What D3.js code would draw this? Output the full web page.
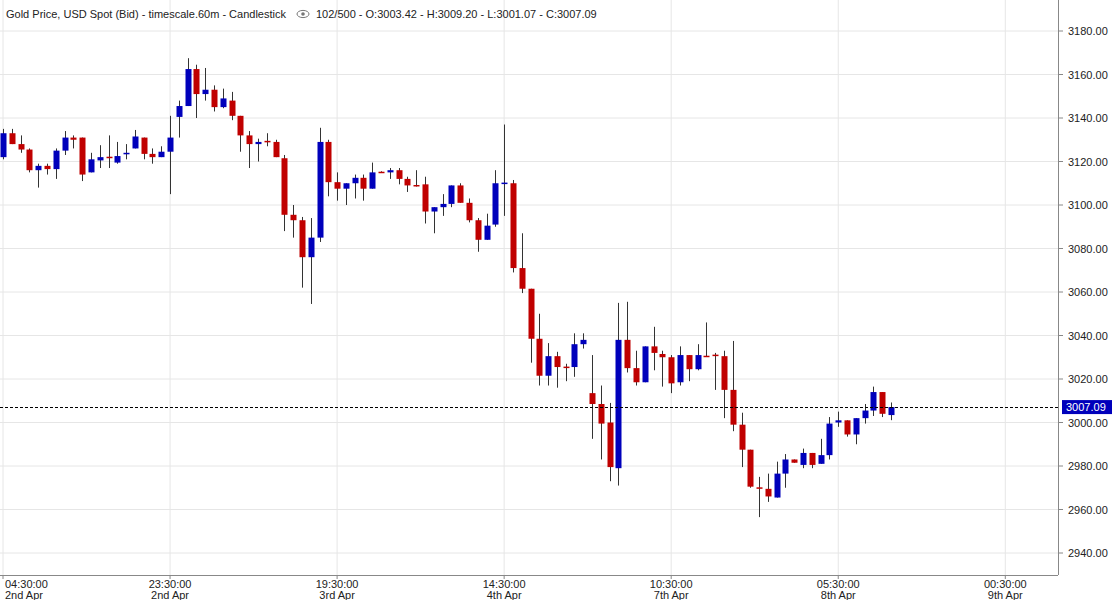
<!DOCTYPE html>
<html><head><meta charset="utf-8">
<script src="https://cdn.jsdelivr.net/npm/d3@7"></script>
<style>body{margin:0;background:#fff;font-family:"Liberation Sans",Arial,sans-serif}</style>
</head><body><svg id="c" width="1116" height="600"></svg>
<script>
const opens=[3122,3133,3128,3125.5,3116,3118,3116.5,3125,3131,3131,3115,3120.5,3122.2,3119.5,3123.5,3126,3131,3123.5,3122,3124.5,3140.5,3145.5,3162.5,3151,3153,3145,3148,3141,3132,3128,3129.5,3129,3121.5,3095.5,3093,3076,3085,3129,3110.5,3107.5,3110,3112.5,3107.5,3115.3,3115,3116,3112,3109.2,3109.5,3097,3099,3100.5,3109,3101,3093,3084,3091,3110,3110,3071,3061.5,3038.5,3021.5,3030.5,3025.7,3025.5,3036,3013.5,3008.5,3000,2979,3038,3025,3018.5,3035,3031.5,3030,3018.5,3031,3024.5,3030.7,3031.2,3030.5,3015,2999,2987.5,2970.2,2969.5,2965.5,2976.5,2983,2980.5,2986,2981,2985,3000,3001,2994.5,3002,3005.5,3014,3003.42];
const highs=[3135,3135,3132,3126,3119,3119,3126,3134,3132,3131,3124,3127.5,3132,3129,3128,3134.5,3131,3126,3127,3141,3148,3167.5,3164.5,3163,3155,3153.5,3152,3141,3134,3130.5,3133,3130,3123,3100,3094.5,3094,3135.5,3130,3115,3110,3114,3114,3119.5,3115.5,3117,3117,3113,3116,3113,3099,3105,3109,3110,3103,3094,3096,3116,3137,3111.5,3087,3061.5,3050,3036.5,3032.5,3027,3041,3041,3031,3017,3009,3055,3055.5,3033,3035,3044,3033,3031,3035,3031,3036,3046,3032,3033,3037.5,3004.5,2987.5,2975,2976.5,2982,2985.5,2983,2988,2986,2992.5,3002.5,3005,3001,3002,3008.5,3016.5,3014,3009.2];
const lows=[3121,3128,3124,3115,3108,3114,3112,3123,3126,3111,3115,3117,3117,3119,3121,3126,3121,3119,3122,3105,3131,3145.5,3140,3148,3143,3144.5,3139,3124.5,3117,3120,3127,3122,3088,3085,3062,3054.5,3083,3104,3102,3100,3103,3102,3107.5,3115,3112,3109.5,3106,3108.5,3091.5,3087,3095,3099,3101,3092,3078.5,3084,3090,3095,3069,3059.5,3027.5,3017,3017,3016,3019,3021,3034,2992.5,2983,2973,2971,3023,3017,3018.5,3024,3016.5,3013.5,3017,3019,3024,3030.5,3015,3002,2996,2979.5,2970,2956.5,2963.5,2965.5,2970,2981.5,2979,2979,2981,2983,2998,2993.5,2990,2999.5,3003,3002.5,3001.07];
const closes=[3133,3128,3125.5,3116,3118,3116.5,3125,3131,3130,3114,3121,3122,3122,3122.5,3124,3131.5,3123.5,3122,3124.5,3131,3145.5,3162.5,3151,3153,3145,3149,3141,3132,3128,3129,3129.2,3122,3095.5,3093,3076,3085,3129,3110.5,3107.5,3110,3112.5,3107.5,3115,3115,3116,3112,3109,3109,3097,3099,3100.5,3109,3101,3093,3084,3090.5,3110,3110.3,3071,3061.5,3038.5,3021.5,3030.5,3025.5,3025.5,3036,3038,3008.5,2999.5,2979.5,3038,3025,3018.5,3035,3032,3030,3018,3031,3024.5,3031,3030.5,3031,3015,2999,2987.5,2970.5,2970,2966,2976.5,2983,2981.5,2986,2980.5,2985,2999.5,3001,2994.5,3002,3005.5,3014,3004,3007.09];
const yTicks=[2940,2960,2980,3000,3020,3040,3060,3080,3100,3120,3140,3160,3180,3200];
const xTickIdx=[0,19,38,57,76,95,114];
const xTimes=["04:30:00","23:30:00","19:30:00","14:30:00","10:30:00","05:30:00","00:30:00"];
const xDates=["2nd Apr","2nd Apr","3rd Apr","4th Apr","7th Apr","8th Apr","9th Apr"];
const last=3007.09;

const svg=d3.select("#c");
const W=1058,B=575;
const x=d3.scaleLinear().domain([0,101]).range([3,891]);
const y=d3.scaleLinear().domain([2940,3180]).range([553,31]);
const g=svg.append("g");
// grid
g.selectAll(".hg").data(yTicks).join("line").attr("x1",0).attr("x2",W).attr("y1",d=>y(d)).attr("y2",d=>y(d)).attr("stroke","#e6e6e6");
g.selectAll(".vg").data(xTickIdx).join("line").attr("x1",d=>x(d)).attr("x2",d=>x(d)).attr("y1",0).attr("y2",B).attr("stroke","#e6e6e6");
// axes lines
svg.append("line").attr("x1",W+.5).attr("x2",W+.5).attr("y1",0).attr("y2",B).attr("stroke","#888");
svg.append("line").attr("x1",0).attr("x2",W).attr("y1",B+.5).attr("y2",B+.5).attr("stroke","#888");
// y labels
svg.selectAll(".yl").data(yTicks).join("text").attr("x",1068).attr("y",d=>y(d)+4).text(d=>d.toFixed(2)).attr("font-size",11).attr("fill","#222");
svg.selectAll(".yt").data(yTicks).join("line").attr("x1",W).attr("x2",W+5).attr("y1",d=>y(d)).attr("y2",d=>y(d)).attr("stroke","#888");
// x labels
xTickIdx.forEach((d,i)=>{const px=x(d);const a=i==0?"start":"middle";const xx=i==0?5:px;
 svg.append("text").attr("x",xx).attr("y",588).attr("text-anchor",a).attr("font-size",11).attr("fill","#222").text(xTimes[i]);
 svg.append("text").attr("x",xx).attr("y",599).attr("text-anchor",a).attr("font-size",11).attr("fill","#222").text(xDates[i]);
 svg.append("line").attr("x1",px).attr("x2",px).attr("y1",B).attr("y2",B+4).attr("stroke","#888");});
// candles
const data=opens.map((o,i)=>({i,o,h:highs[i],l:lows[i],c:closes[i]}));
const cg=svg.append("g");
cg.selectAll(".w").data(data).join("line").attr("x1",d=>Math.round(x(d.i))+.5).attr("x2",d=>Math.round(x(d.i))+.5).attr("y1",d=>y(d.h)).attr("y2",d=>y(d.l)).attr("stroke","#333").attr("stroke-width",1);
cg.selectAll(".b").data(data).join("rect").attr("x",d=>Math.round(x(d.i))-2.5).attr("width",6)
 .attr("y",d=>y(Math.max(d.o,d.c))).attr("height",d=>Math.max(1.5,Math.abs(y(d.o)-y(d.c))))
 .attr("fill",d=>d.c>=d.o?"#0000bb":"#c00000");
// last price
svg.append("line").attr("x1",0).attr("x2",W).attr("y1",Math.round(y(last))+.5).attr("y2",Math.round(y(last))+.5).attr("stroke","#000").attr("stroke-dasharray","3,2");
svg.append("rect").attr("x",W+4).attr("y",y(last)-7).attr("width",50).attr("height",14).attr("fill","#0000bb");
svg.append("text").attr("x",W+8).attr("y",y(last)+4).attr("fill","#fff").attr("font-size",11).text(last.toFixed(2));
// title
const t=svg.append("text").attr("x",6).attr("y",18).attr("font-size",11).attr("fill","#222");
t.append("tspan").text("Gold Price, USD Spot (Bid) - timescale.60m - Candlestick");
const eg=svg.append("g").attr("transform","translate(303,14)");
eg.append("ellipse").attr("rx",6).attr("ry",3.6).attr("fill","none").attr("stroke","#777");
eg.append("circle").attr("r",1.8).attr("fill","#777");
svg.append("text").attr("x",316).attr("y",18).attr("font-size",11).attr("fill","#222").text("102/500 - O:3003.42 - H:3009.20 - L:3001.07 - C:3007.09");
</script></body></html>
